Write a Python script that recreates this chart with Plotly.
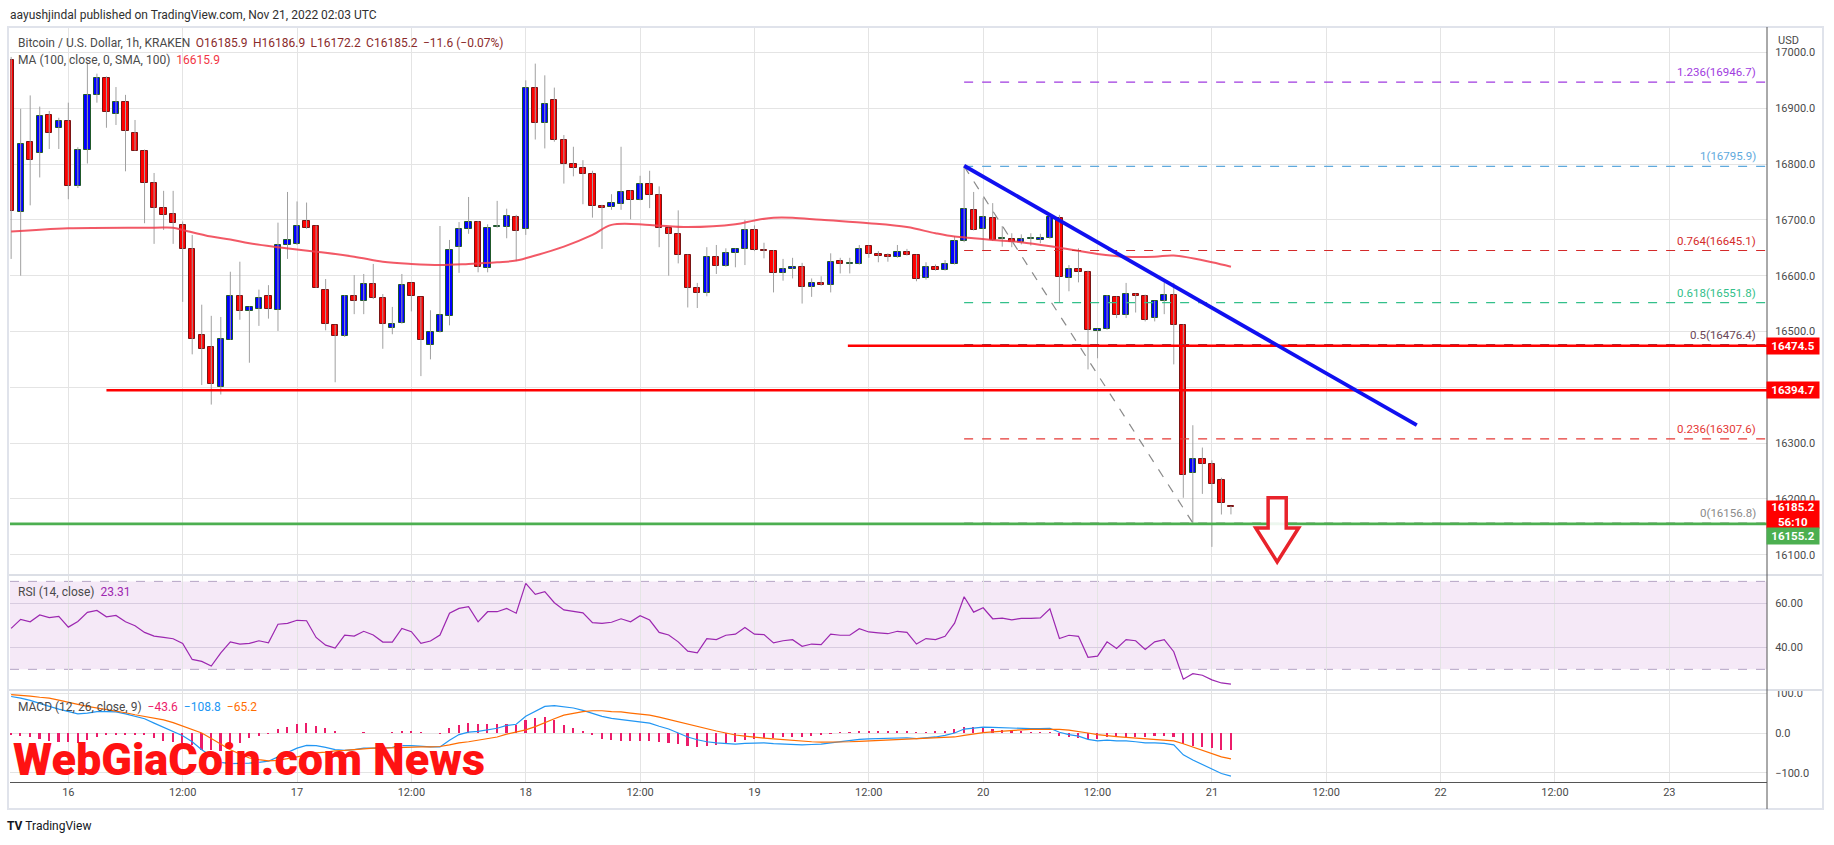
import plotly.graph_objects as go

# ---------------- data (1h candles, hours relative to 2022-11-16 00:00 UTC) ----------------
hours = list(range(-6, 123))

opens = [16986, 16714, 16840, 16820, 16888, 16864, 16877, 16761, 16825, 16924,
         16955, 16890, 16911, 16856, 16824, 16766, 16721, 16710, 16691, 16648,
         16493, 16472, 16401, 16485, 16564, 16536, 16540, 16563, 16538, 16655,
         16657, 16698, 16689, 16574, 16511, 16491, 16563, 16554, 16585, 16560,
         16506, 16515, 16587, 16561, 16475, 16499, 16527, 16651, 16683, 16696,
         16613, 16687, 16687, 16705, 16683, 16937, 16874, 16915, 16843, 16800,
         16793, 16782, 16725, 16723, 16728, 16752, 16736, 16764, 16745, 16685,
         16675, 16637, 16578, 16569, 16633, 16617, 16640, 16648, 16682, 16646,
         16645, 16604, 16612, 16615, 16579, 16587, 16583, 16626, 16621, 16621,
         16653, 16639, 16637, 16633, 16642, 16637, 16596, 16615, 16610, 16621,
         16662, 16718, 16684, 16703, 16666, 16666, 16660, 16666, 16664, 16667,
         16703, 16596, 16612, 16606, 16500, 16504, 16561, 16529, 16567, 16563,
         16525, 16554, 16565, 16511, 16247, 16272, 16262, 16233, 16185.9]

highs = [16992, 16899, 16923, 16903, 16895, 16883, 16910, 16830, 16982, 16962,
         16957, 16938, 16924, 16879, 16826, 16784, 16752, 16752, 16697, 16673,
         16548, 16528, 16526, 16607, 16625, 16545, 16575, 16583, 16695, 16750,
         16733, 16731, 16690, 16594, 16512, 16565, 16601, 16603, 16621, 16567,
         16544, 16603, 16588, 16562, 16538, 16689, 16664, 16696, 16741, 16698,
         16692, 16734, 16720, 16709, 16950, 16980, 16959, 16937, 16852, 16831,
         16807, 16788, 16727, 16746, 16831, 16753, 16779, 16788, 16760, 16686,
         16717, 16638, 16587, 16651, 16655, 16649, 16649, 16700, 16690, 16659,
         16646, 16630, 16632, 16623, 16595, 16599, 16640, 16632, 16632, 16655,
         16654, 16644, 16640, 16655, 16648, 16638, 16624, 16620, 16628, 16671,
         16797, 16750, 16739, 16730, 16689, 16676, 16674, 16676, 16675, 16710,
         16709, 16619, 16649, 16609, 16505, 16565, 16563, 16587, 16568, 16566,
         16555, 16588, 16587, 16513, 16332, 16292, 16269, 16238, 16186.9]

lows = [16630, 16600, 16726, 16776, 16827, 16827, 16737, 16757, 16801, 16910,
        16865, 16870, 16787, 16824, 16694, 16657, 16682, 16657, 16553, 16459,
        16404, 16369, 16387, 16485, 16521, 16444, 16510, 16523, 16501, 16630,
        16655, 16684, 16578, 16502, 16409, 16490, 16531, 16531, 16558, 16469,
        16495, 16514, 16536, 16420, 16450, 16498, 16511, 16605, 16675, 16606,
        16606, 16686, 16667, 16626, 16673, 16844, 16828, 16840, 16765, 16778,
        16728, 16704, 16648, 16718, 16718, 16701, 16735, 16721, 16651, 16600,
        16622, 16543, 16542, 16563, 16603, 16616, 16615, 16619, 16644, 16631,
        16570, 16591, 16595, 16550, 16562, 16582, 16570, 16604, 16604, 16620,
        16632, 16624, 16625, 16632, 16636, 16590, 16593, 16609, 16609, 16620,
        16660, 16681, 16646, 16662, 16652, 16651, 16656, 16654, 16658, 16666,
        16551, 16572, 16588, 16432, 16452, 16503, 16524, 16524, 16534, 16518,
        16518, 16531, 16441, 16202, 16156, 16209, 16114, 16172, 16172.2]

closes = [16716, 16836, 16807, 16886, 16856, 16877, 16760, 16825, 16924, 16955,
          16894, 16911, 16859, 16824, 16766, 16721, 16709, 16694, 16648, 16487,
          16468, 16405, 16486, 16564, 16536, 16543, 16560, 16540, 16655, 16664,
          16689, 16685, 16578, 16513, 16491, 16563, 16554, 16585, 16560, 16513,
          16513, 16583, 16563, 16484, 16499, 16529, 16646, 16683, 16696, 16615,
          16685, 16687, 16707, 16680, 16937, 16874, 16908, 16843, 16800, 16793,
          16782, 16725, 16721, 16730, 16750, 16736, 16764, 16745, 16685, 16675,
          16637, 16578, 16569, 16633, 16617, 16640, 16648, 16682, 16646, 16644,
          16604, 16612, 16615, 16579, 16587, 16583, 16624, 16621, 16621, 16648,
          16639, 16636, 16633, 16642, 16637, 16594, 16615, 16610, 16621, 16662,
          16719, 16682, 16705, 16664, 16667, 16660, 16666, 16666, 16667, 16705,
          16597, 16612, 16606, 16502, 16504, 16563, 16529, 16567, 16563, 16520,
          16554, 16565, 16511, 16242, 16271, 16262, 16227, 16193, 16185.2]

# MA(100) at sample hours
ma_hours = [-6, 0, 9, 11, 12, 15, 17, 19, 22, 26, 30, 33, 36, 39, 42, 45, 47, 49, 52, 55,
            57, 61, 65, 70, 72, 74, 76, 79, 84, 88, 91, 93, 95, 97, 100, 104, 108, 111,
            114, 116, 120, 122]
ma_values = [16679, 16685, 16686, 16686, 16682, 16670, 16665, 16658, 16651, 16643, 16634,
             16625, 16621, 16619, 16621, 16624, 16627, 16636, 16652, 16673, 16691, 16691,
             16687, 16692, 16699, 16704, 16704, 16700, 16694, 16687, 16676, 16670, 16667,
             16664, 16660, 16650, 16639, 16634, 16634, 16636, 16624, 16616]

rsi = [48.6, 52.7, 51.6, 54.7, 53.5, 54.1, 49.2, 51.8, 55.9, 56.8,
       53.9, 54.5, 51.6, 49.8, 46.8, 45.1, 44.5, 43.9, 41.8, 34.5,
       33.6, 31.5, 37.5, 42.5, 41.5, 41.8, 43.0, 42.1, 50.5, 50.9,
       52.3, 52.1, 44.5, 41.0, 39.7, 45.5, 45.1, 47.3, 45.6, 42.4,
       42.4, 48.6, 47.1, 41.8, 42.9, 45.6, 55.5, 57.7, 58.5, 51.6,
       56.2, 56.2, 57.7, 55.5, 69.1, 64.1, 65.3, 60.3, 57.0, 56.5,
       55.7, 51.2, 50.9, 51.4, 53.0, 51.6, 54.4, 52.4, 46.8, 45.6,
       42.5, 38.3, 37.5, 44.0, 43.5, 45.5, 46.0, 49.0, 46.0, 45.8,
       42.0, 43.0, 43.5, 40.5, 41.5, 41.2, 46.0, 45.5, 45.5, 48.5,
       47.0, 46.6, 46.2, 47.3, 46.8, 41.5, 44.0, 43.5, 45.0, 51.0,
       63.0, 56.0, 58.0, 53.0, 53.3, 52.5, 53.2, 53.2, 53.4, 57.5,
       44.0, 45.5, 45.0, 35.5, 36.0, 42.5, 39.5, 43.5, 43.0, 39.0,
       42.5, 43.5, 38.0, 25.5, 28.0, 27.3, 25.2, 23.8, 23.31]

macd_line = [92, 88, 82, 74, 67, 60, 54, 48, 50, 54,
             54, 53, 48, 42, 36, 25, 14, 4, -7, -22,
             -42, -58, -74, -77, -77, -76, -74, -71, -60, -50,
             -38, -31, -32, -36, -42, -44, -42, -38, -38, -38,
             -36, -32, -32, -34, -35, -35, -18, -4, 2, 4,
             8, 12, 19, 22, 42, 55, 67, 69, 66, 63,
             57, 50, 42, 37, 34, 31, 29, 25, 17, 10,
             0, -10, -17, -22, -25, -27, -28, -26, -25, -25,
             -27, -28, -28, -30, -29, -28, -25, -22, -20, -16,
             -15, -14, -13, -12, -12, -14, -12, -10, -6, 0,
             10, 12, 15, 14, 13, 12, 12, 11, 11, 12,
             2, -4, -8, -16, -20, -18, -20, -20, -22, -25,
             -25, -26, -30, -55, -68, -80, -92, -102, -108.8]

signal_line = [96.5, 95, 93, 90, 88, 83, 77, 72, 67, 63,
               60, 56, 51, 46, 42, 38, 33, 26, 17, 9,
               0, -14, -29, -42, -53, -63, -67, -70, -69, -65,
               -60, -55, -50, -48, -45, -44, -42, -40, -38, -38,
               -37, -36, -35, -35, -35, -34, -30, -25, -22, -18,
               -15, -10, -3, 3, 8, 16, 27, 36, 45, 50,
               54, 56, 56, 54, 53, 50, 48, 45, 40, 34,
               28, 22, 17, 10, 5, 0, -5, -8, -11, -13,
               -15, -17, -19, -21, -22, -23, -23, -23, -22, -21,
               -20, -19, -18, -17, -16, -15, -14, -13, -12, -10,
               -6, -2, 1, 3, 5, 7, 8, 9, 9, 10,
               9, 7, 4, 0, -4, -7, -9, -11, -13, -15,
               -17, -18, -20, -27, -35, -44, -53, -60, -65.2]

macd_hist = [m - s for m, s in zip(macd_line, signal_line)]

time_tick_hours = [0, 12, 24, 36, 48, 60, 72, 84, 96, 108, 120, 132, 144, 156, 168]
time_tick_labels = ["16", "12:00", "17", "12:00", "18", "12:00", "19", "12:00", "20",
                    "12:00", "21", "12:00", "22", "12:00", "23"]
price_ticks = [16100, 16200, 16300, 16400, 16500, 16600, 16700, 16800, 16900, 17000]
# 16400.0 is fully covered by the 16394.7 marker in the original
price_tick_labels = ["16100.0", "16200.0", "16300.0", "", "16500.0", "16600.0",
                     "16700.0", "16800.0", "16900.0", "17000.0"]

# drawings
fib_ratios = ["1.236", "1", "0.764", "0.618", "0.5", "0.236", "0"]
fib_prices = [16946.7, 16795.9, 16645.1, 16551.8, 16476.4, 16307.6, 16156.8]
fib_colors = ["#a03be0", "#5ea9dd", "#d42a2a", "#33c08a", "#6a4656", "#e53935", "#8a8a8a"]
fib_start_hour = 94
fib_base = [(94, 16795.9), (118, 16156.8)]
trend_line = [(94, 16797), (141.5, 16332)]
support_levels = [16394.7, 16474.5, 16155.2]
support_start_hours = [4, 81.8, -6.12]
support_colors = ["#ff0000", "#ff0000", "#4caf50"]
arrow_pts = [(125.9, 16202), (127.8, 16202), (127.8, 16148), (129.1, 16148),
             (126.85, 16087), (124.6, 16148), (125.9, 16148)]

# ---------------- geometry ----------------
FIG_W, FIG_H = 1834, 845
M_L, M_R, M_T, M_B = 10, 67, 27, 63
PW = FIG_W - M_L - M_R
PH = FIG_H - M_T - M_B
BOT = FIG_H - M_B


def pxx(x):
    return (x - M_L) / PW


def pxy(y):
    return (BOT - y) / PH


X_RANGE = [-6.12, 178.25]
PRICE_RANGE = [16063.6, 17045.6]
RSI_RANGE = [20.6, 72.9]
MACD_RANGE = [-123.4, 108.3]
FONT = "Roboto, Liberation Sans, sans-serif"
AX_COL = "#4a4a4a"
GRID = "#e4e4e4"

fig = go.Figure()

# wicks
wx, wy = [], []
for h, lo, hi in zip(hours, lows, highs):
    wx += [h, h, None]
    wy += [lo, hi, None]
fig.add_trace(go.Scatter(x=wx, y=wy, mode="lines", line=dict(color="#a0a0a0", width=1),
                         hoverinfo="skip", showlegend=False, xaxis="x", yaxis="y"))

# bodies
base = [min(o, c) for o, c in zip(opens, closes)]
length = [max(abs(c - o), 1.6) for o, c in zip(opens, closes)]
body_col = ["#0000ff" if c >= o else "#ff0000" for o, c in zip(opens, closes)]
edge_col = ["#215a2a" if c >= o else "#7a1414" for o, c in zip(opens, closes)]
fig.add_trace(go.Bar(x=hours, y=length, base=base, width=0.66,
                     marker=dict(color=body_col, line=dict(color=edge_col, width=1)),
                     showlegend=False, xaxis="x", yaxis="y"))

# MA
fig.add_trace(go.Scatter(x=ma_hours, y=ma_values, mode="lines",
                         line=dict(color="rgba(240,60,75,0.85)", width=2, shape="spline"),
                         showlegend=False, xaxis="x", yaxis="y"))

# RSI
fig.add_trace(go.Scatter(x=hours, y=rsi, mode="lines", line=dict(color="#9c27b0", width=1.2),
                         showlegend=False, xaxis="x", yaxis="y2"))

# MACD
fig.add_trace(go.Bar(x=hours, y=macd_hist, width=0.17, marker=dict(color="#ec1c6a", line=dict(width=0)),
                     showlegend=False, xaxis="x", yaxis="y3"))
fig.add_trace(go.Scatter(x=hours, y=macd_line, mode="lines", line=dict(color="#2196f3", width=1.2),
                         showlegend=False, xaxis="x", yaxis="y3"))
fig.add_trace(go.Scatter(x=hours, y=signal_line, mode="lines", line=dict(color="#ff6d00", width=1.2),
                         showlegend=False, xaxis="x", yaxis="y3"))

shapes = []
# RSI band
shapes.append(dict(type="rect", xref="paper", yref="y2", x0=0, x1=1, y0=30, y1=70,
                   fillcolor="rgba(156,39,176,0.10)", line=dict(width=0), layer="below"))
for lvl in (30, 70):
    shapes.append(dict(type="line", xref="paper", yref="y2", x0=0, x1=1, y0=lvl, y1=lvl,
                       line=dict(color="#b4a4c4", width=1, dash="dash"), layer="below"))

# pane separators and frame
for yy in (575, 690):
    shapes.append(dict(type="line", xref="paper", yref="paper", x0=pxx(8), x1=pxx(1823),
                       y0=pxy(yy), y1=pxy(yy), line=dict(color="#dcdfe6", width=2)))
shapes.append(dict(type="rect", xref="paper", yref="paper", x0=pxx(8), x1=pxx(1823),
                   y0=pxy(809), y1=pxy(27), line=dict(color="#e0e3eb", width=2)))
shapes.append(dict(type="line", xref="paper", yref="paper", x0=pxx(1767), x1=pxx(1767),
                   y0=pxy(809), y1=pxy(27), line=dict(color="#555555", width=1)))

# fib levels
for fp, fc in zip(fib_prices, fib_colors):
    shapes.append(dict(type="line", xref="x", yref="y", x0=fib_start_hour, x1=X_RANGE[1],
                       y0=fp, y1=fp, line=dict(color=fc, width=1.2, dash="dash"), layer="above"))
shapes.append(dict(type="line", xref="x", yref="y", x0=fib_base[0][0], y0=fib_base[0][1],
                   x1=fib_base[1][0], y1=fib_base[1][1],
                   line=dict(color="#8a8a8a", width=1.2, dash="dash"), layer="above"))
# support / resistance
for lvl, x0, col in zip(support_levels, support_start_hours, support_colors):
    shapes.append(dict(type="line", xref="x", yref="y", x0=x0, x1=X_RANGE[1], y0=lvl, y1=lvl,
                       line=dict(color=col, width=2.6), layer="above"))
# trend line
shapes.append(dict(type="line", xref="x", yref="y", x0=trend_line[0][0], y0=trend_line[0][1],
                   x1=trend_line[1][0], y1=trend_line[1][1],
                   line=dict(color="#1010f0", width=3.8), layer="above"))
# arrow
path = "M " + " L ".join(f"{h},{p}" for h, p in arrow_pts) + " Z"
shapes.append(dict(type="path", xref="x", yref="y", path=path, fillcolor="rgba(255,255,255,0.9)",
                   line=dict(color="#e8232b", width=3.5), layer="above"))

ann = []


def text(x, y, s, size=12, color="#333", xanchor="left", yanchor="middle", family=FONT, weight=None, **kw):
    f = dict(size=size, color=color, family=family)
    if weight:
        f["weight"] = weight
    ann.append(dict(x=x, y=y, xref=kw.pop("xref", "paper"), yref=kw.pop("yref", "paper"),
                    text=s, showarrow=False, xanchor=xanchor, yanchor=yanchor, font=f, **kw))


GAP = "\u00a0\u2009"
text(pxx(8), pxy(15), "aayushjindal published on TradingView.com, Nov 21, 2022 02:03 UTC", size=12, color="#2f2f2f")
red_dark = "#8b2b2b"
text(pxx(16), pxy(43),
     f"Bitcoin / U.S. Dollar, 1h, KRAKEN{GAP}"
     f"<span style='color:{red_dark}'>O16185.9{GAP}H16186.9{GAP}L16172.2{GAP}C16185.2{GAP}\u221211.6 (\u22120.07%)</span>",
     size=12, color="#4a4a4a")
text(pxx(16), pxy(59.5), "MA (100, close, 0, SMA, 100)\u00a0\u00a0<span style='color:#f23645'>16615.9</span>",
     size=12, color="#4a4a4a")
text(pxx(16), pxy(592), "RSI (14, close)\u00a0\u00a0<span style='color:#9c27b0'>23.31</span>", size=12, color="#4a4a4a")
text(pxx(16), pxy(707),
     "MACD (12, 26, close, 9)\u00a0\u00a0<span style='color:#ec1c6a'>\u221243.6</span>\u00a0\u00a0"
     "<span style='color:#2196f3'>\u2212108.8</span>\u00a0\u00a0<span style='color:#ff6d00'>\u221265.2</span>",
     size=12, color="#4a4a4a")

# fib labels
for r, fp, fc in zip(fib_ratios, fib_prices, fib_colors):
    text(pxx(1758), fp, f"{r}({fp})", size=11.5, color=fc, xanchor="right", yanchor="bottom",
         yref="y", yshift=1)

# axis labels
text(pxx(1776), pxy(40), "USD", size=11, color=AX_COL)
text(pxx(1766), 16474.5, "<b>16474.5</b>", size=11.5, color="white", bgcolor="#ff0000",
     yref="y", width=50, height=14, borderpad=1)
text(pxx(1766), 16394.7, "<b>16394.7</b>", size=11.5, color="white", bgcolor="#ff0000",
     yref="y", width=50, height=14, borderpad=1)
text(pxx(1766), 16185.2, "<b>16185.2</b><br><b>56:10</b>", size=11.5, color="white", bgcolor="#ff0000",
     yref="y", yanchor="top", yshift=7, width=50, height=25, borderpad=1)
text(pxx(1766), 16155.2, "<b>16155.2</b>", size=11.5, color="white", bgcolor="#4caf50",
     yref="y", yshift=-12, width=50, height=14, borderpad=1)

# watermark
text(pxx(11), pxy(759), "WebGiaCoin.com News", size=45, color="#ff1212",
     family="Roboto, Liberation Sans, sans-serif", weight=900)
# TradingView logo
text(pxx(5), pxy(826), "<b>TV</b>\u00a0TradingView", size=12, color="#131722")

fig.update_layout(
    width=FIG_W, height=FIG_H,
    margin=dict(l=M_L, r=M_R, t=M_T, b=M_B),
    paper_bgcolor="white", plot_bgcolor="white",
    showlegend=False, bargap=0, barmode="overlay",
    xaxis=dict(domain=[0, 1], range=X_RANGE, anchor="y3", tickmode="array",
               tickvals=time_tick_hours, ticktext=time_tick_labels, showgrid=True,
               gridcolor=GRID, zeroline=False, showline=True, linecolor="#555555",
               ticks="", tickfont=dict(size=11, color=AX_COL, family=FONT)),
    yaxis=dict(domain=[pxy(575), 1], range=PRICE_RANGE, side="right", anchor="x",
               tickmode="array", tickvals=price_ticks, ticktext=price_tick_labels,
               showgrid=True, gridcolor=GRID, zeroline=False, showline=False,
               ticks="outside", ticklen=5, tickcolor="rgba(0,0,0,0)",
               tickfont=dict(size=11, color=AX_COL, family=FONT)),
    yaxis2=dict(domain=[pxy(690), pxy(575)], range=RSI_RANGE, side="right", anchor="x",
                tickmode="array", tickvals=[40, 60], ticktext=["40.00", "60.00"],
                showgrid=True, gridcolor="#d8cce0", zeroline=False, showline=False,
                ticks="outside", ticklen=5, tickcolor="rgba(0,0,0,0)",
                tickfont=dict(size=11, color=AX_COL, family=FONT)),
    yaxis3=dict(domain=[0, pxy(690)], range=MACD_RANGE, side="right", anchor="x",
                tickmode="array", tickvals=[-100, 0, 100], ticktext=["\u2212100.0", "0.0", "100.0"],
                showgrid=True, gridcolor=GRID, zeroline=False, showline=False,
                ticks="outside", ticklen=5, tickcolor="rgba(0,0,0,0)",
                tickfont=dict(size=11, color=AX_COL, family=FONT)),
    shapes=shapes,
    annotations=ann,
)

fig.write_html("out.html", config={"displayModeBar": False},
               post_script="document.body.style.margin='0';document.body.style.overflow='hidden';")
